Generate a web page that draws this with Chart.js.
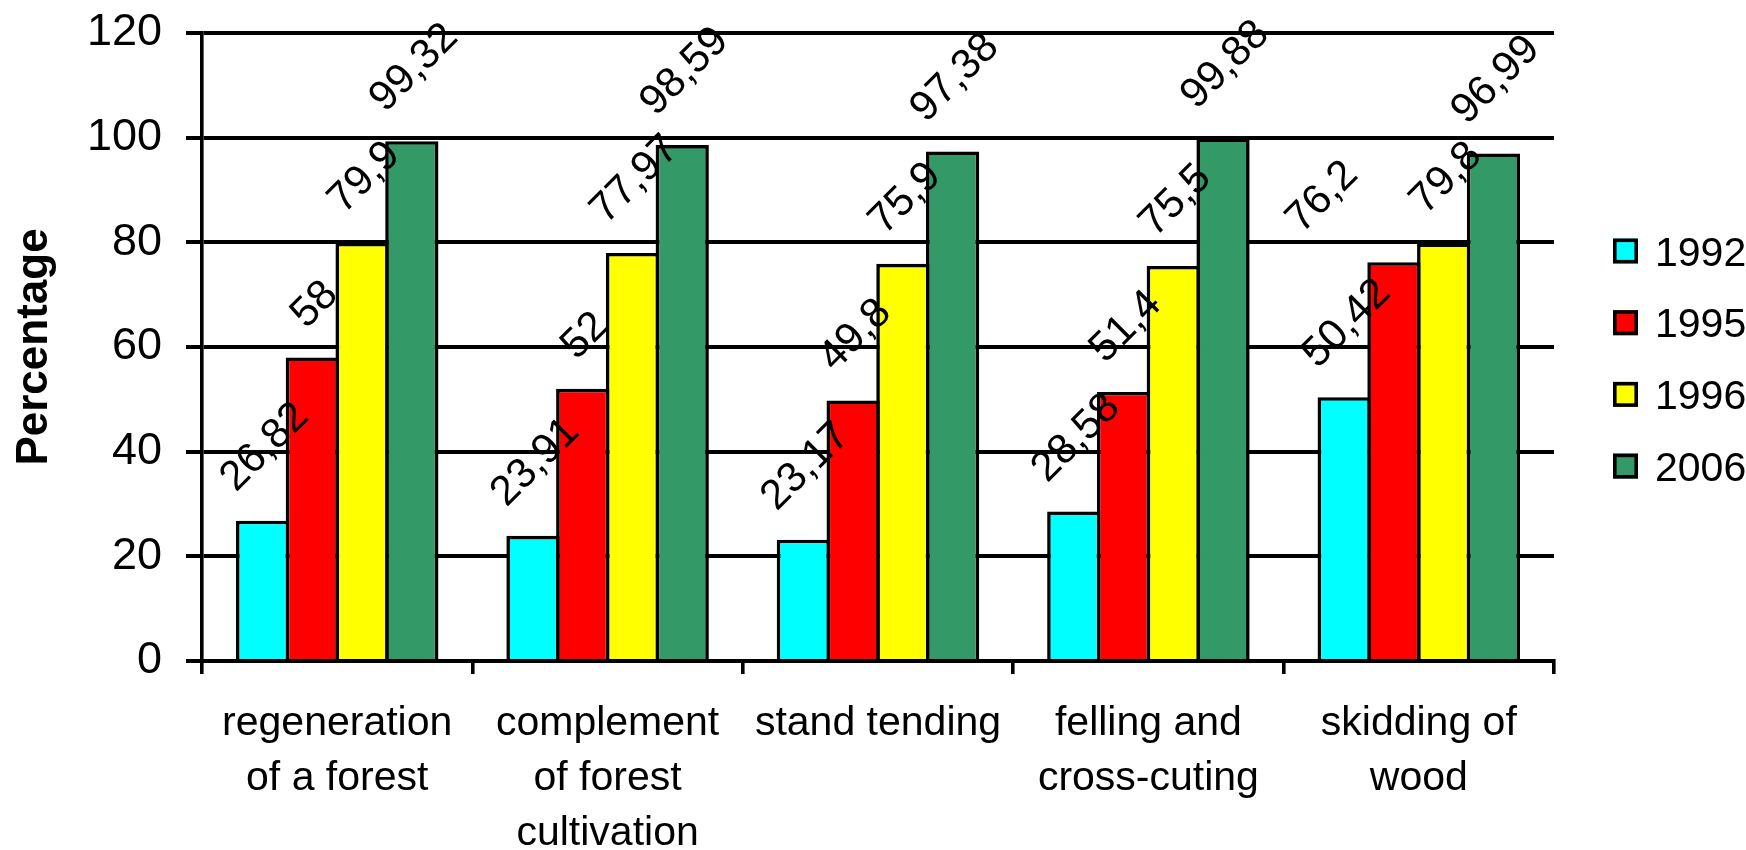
<!DOCTYPE html>
<html>
<head>
<meta charset="utf-8">
<title>Mechanisation of forest operations</title>
<script src="https://cdn.jsdelivr.net/npm/chart.js@4/dist/chart.umd.min.js"></script>
<style>
  html, body { margin: 0; padding: 0; background: #ffffff; }
  #wrap { width: 1746px; height: 850px; }
  canvas { display: block; }
</style>
</head>
<body>
<div id="wrap"><canvas id="chart" width="1746" height="850"></canvas></div>
<script>
// Operations (multi-line category labels)
const categories = [
  ['regeneration', 'of a forest'],
  ['complement', 'of forest', 'cultivation'],
  ['stand tending'],
  ['felling and', 'cross-cuting'],
  ['skidding of', 'wood']
];

// Share of each operation, by year (%)
const years = ['1992', '1995', '1996', '2006'];
const values1992 = [26.82, 23.91, 23.17, 28.58, 50.42];
const values1995 = [58, 52, 49.8, 51.4, 76.2];
const values1996 = [79.9, 77.97, 75.9, 75.5, 79.8];
const values2006 = [99.32, 98.59, 97.38, 99.88, 96.99];

// Y axis ticks
const yTicks = [0, 20, 40, 60, 80, 100, 120];

const seriesColors = ['#00FFFF', '#FF0000', '#FFFF00', '#339966'];
const FONT = '"Liberation Sans", Arial, Helvetica, sans-serif';
const BAR_LINE = 3.6;
const GRID_LINE = 4;

// horizontal shift for a label that sits beside its bar: [dataset][category]
const labelShift = { 1: { 4: -74 } };

const fmt = v => String(v).replace('.', ',');

// Rotated value labels above each bar
const valueLabels = {
  id: 'valueLabels',
  afterDatasetsDraw(chart) {
    const ctx = chart.ctx;
    const size = 42;
    const capH = 0.716 * size;
    const gap = 28;
    ctx.save();
    ctx.font = size + 'px ' + FONT;
    ctx.fillStyle = '#000000';
    ctx.textAlign = 'center';
    ctx.textBaseline = 'alphabetic';
    chart.data.datasets.forEach((ds, di) => {
      const meta = chart.getDatasetMeta(di);
      meta.data.forEach((bar, i) => {
        const txt = fmt(ds.data[i]);
        const w = ctx.measureText(txt).width;
        const half = (w / 2 + capH / 2) * Math.SQRT1_2;
        const shift = (labelShift[di] && labelShift[di][i]) || 0;
        const cx = bar.x + shift;
        const cy = bar.y - gap - half;
        ctx.save();
        ctx.translate(cx, cy);
        ctx.rotate(-Math.PI / 4);
        ctx.fillText(txt, 0, capH / 2);
        ctx.restore();
      });
    });
    ctx.restore();
  }
};

// Legend at the right: bordered squares and year labels
const sideLegend = {
  id: 'sideLegend',
  afterDraw(chart) {
    const ctx = chart.ctx;
    const boxX = 1613, box = 25, textX = 1655;
    const firstY = 251, step = 71.7;
    const size = 41;
    ctx.save();
    ctx.font = size + 'px ' + FONT;
    ctx.textAlign = 'left';
    ctx.textBaseline = 'alphabetic';
    chart.data.datasets.forEach((ds, i) => {
      const cy = firstY + i * step;
      ctx.fillStyle = ds.backgroundColor;
      ctx.fillRect(boxX, cy - box / 2, box, box);
      ctx.lineWidth = BAR_LINE;
      ctx.strokeStyle = '#000000';
      ctx.strokeRect(boxX + BAR_LINE / 2, cy - box / 2 + BAR_LINE / 2, box - BAR_LINE, box - BAR_LINE);
      ctx.fillStyle = '#000000';
      ctx.fillText(ds.label, textX, cy + 0.716 * size / 2);
    });
    ctx.restore();
  }
};

const seriesValues = [values1992, values1995, values1996, values2006];

const datasets = years.map((y, i) => ({
  label: y,
  data: seriesValues[i],
  backgroundColor: seriesColors[i],
  borderColor: '#000000',
  borderWidth: BAR_LINE,
  borderSkipped: 'start',
  categoryPercentage: 0.736,
  barPercentage: 1.07
}));

new Chart(document.getElementById('chart'), {
  type: 'bar',
  data: { labels: categories, datasets },
  options: {
    responsive: false,
    devicePixelRatio: 1,
    animation: false,
    layout: { padding: { left: 0, right: 192, top: 33, bottom: 0 } },
    plugins: {
      legend: { display: false },
      tooltip: { enabled: false },
      title: { display: false }
    },
    scales: {
      x: {
        offset: true,
        grid: {
          offset: true,
          drawOnChartArea: false,
          drawTicks: true,
          tickLength: 13,
          color: '#000000',
          lineWidth: BAR_LINE
        },
        border: { display: true, color: '#000000', width: GRID_LINE },
        ticks: {
          color: '#000000',
          font: { family: FONT, size: 41, lineHeight: '55px' },
          padding: 22,
          maxRotation: 0,
          autoSkip: false
        },
        afterFit(scale) {
          scale.height = 189;
          scale.paddingLeft = 0;
          scale.paddingRight = 0;
        }
      },
      y: {
        min: 0,
        max: 120,
        afterBuildTicks(scale) { scale.ticks = yTicks.map(v => ({ value: v })); },
        grid: {
          color: '#000000',
          lineWidth: GRID_LINE,
          drawTicks: true,
          tickLength: 16
        },
        border: { display: true, color: '#000000', width: BAR_LINE },
        ticks: {
          color: '#000000',
          font: { family: FONT, size: 45 },
          padding: 24
        },
        title: {
          display: true,
          text: 'Percentage',
          color: '#000000',
          font: { family: FONT, size: 44, weight: 'bold', lineHeight: 1.2 },
          padding: { top: 8, bottom: 0 }
        },
        afterFit(scale) {
          scale.width = 202;
          scale.paddingTop = 0;
          scale.paddingBottom = 0;
        }
      }
    }
  },
  plugins: [valueLabels, sideLegend]
});
</script>
</body>
</html>
